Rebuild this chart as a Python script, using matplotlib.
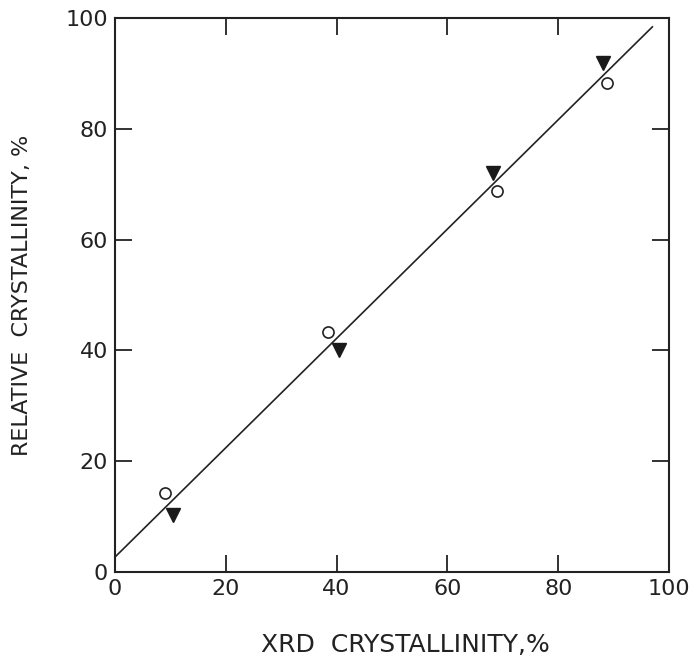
import numpy as np
import matplotlib
matplotlib.use("Agg")
import matplotlib.pyplot as plt

# values
xrd_circle = [9.0, 38.5, 69.0, 88.8]
rel_circle = [14.3, 43.3, 68.8, 88.3]
xrd_tri = [10.5, 40.5, 68.3, 88.0]
rel_tri = [10.3, 40.0, 72.0, 91.8]
fit_x = [0.0, 97.0]
fit_y = [2.7, 98.4]
ticks = [0, 20, 40, 60, 80, 100]

plt.rcParams['font.family'] = ['DejaVu Sans']

fig = plt.figure(figsize=(7, 6.66), dpi=100)
ax = fig.add_axes([115/700, 1-572/666, 554/700, 554/666])

ax.plot(fit_x, fit_y, color='#222222', lw=1.2)
ax.plot(xrd_circle, rel_circle, 'o', ms=8, mfc='white', mec='#222222', mew=1.2)
ax.plot(xrd_tri, rel_tri, 'v', ms=10, color='#1a1a1a')

ax.set_xlim(0, 100)
ax.set_ylim(0, 100)
ax.set_xticks(ticks)
ax.set_yticks(ticks)
ax.tick_params(direction='in', length=12, width=1.3, top=True, right=True,
               labelsize=16, colors='#222222', pad=5)
for s in ax.spines.values():
    s.set_linewidth(1.5)
    s.set_color('#222222')

ax.set_xlabel('XRD  CRYSTALLINITY,%', fontsize=18, color='#222222')
ax.set_ylabel('RELATIVE  CRYSTALLINITY, %', fontsize=16, color='#222222')
ax.xaxis.set_label_coords(0.525, -0.11)
ax.yaxis.set_label_coords(-0.15, 0.5)

fig.savefig('out.png', dpi=100)
